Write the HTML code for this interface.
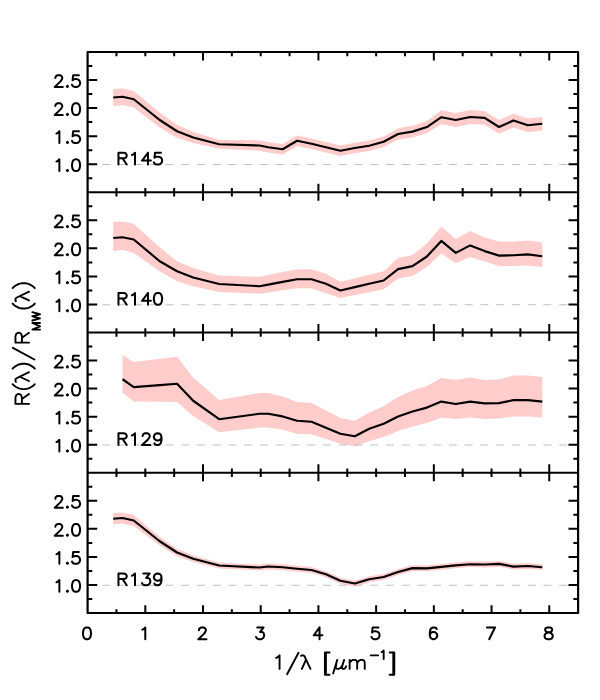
<!DOCTYPE html>
<html lang="en"><head><meta charset="utf-8"><title>R(lambda)/R_MW(lambda) vs 1/lambda</title>
<style>html,body{margin:0;padding:0;background:#fff;font-family:"Liberation Sans",sans-serif}svg{display:block}.t{fill:#000;fill-opacity:0;font-family:"Liberation Sans",sans-serif;font-size:16px}</style>
</head><body>
<svg width="600" height="700" viewBox="0 0 600 700">
<rect width="600" height="700" fill="#fff"/>
<polygon points="113.22,89.10 122.57,88.44 133.76,91.04 159.73,112.62 177.04,124.87 193.20,132.00 219.17,139.64 259.56,140.31 268.22,142.10 282.65,144.07 297.07,135.56 311.50,138.55 325.93,142.06 340.35,145.54 354.78,142.77 369.20,140.48 383.63,136.43 398.06,128.29 412.48,125.75 426.91,121.09 441.34,110.21 455.76,113.02 470.19,110.06 484.62,110.90 499.04,120.09 513.47,113.66 527.90,118.47 542.32,117.00 542.32,130.60 527.90,132.13 513.47,127.38 499.04,133.87 484.62,124.72 470.19,123.94 455.76,126.96 441.34,124.21 426.91,133.09 412.48,137.45 398.06,139.69 383.63,147.03 369.20,151.02 354.78,153.23 340.35,155.94 325.93,152.46 311.50,148.95 297.07,145.96 282.65,154.47 268.22,152.50 259.56,150.71 219.17,148.84 193.20,143.00 177.04,137.67 159.73,127.42 133.76,107.44 122.57,105.06 113.22,105.90" fill="#ffcccc"/>
<line x1="87.60" y1="164.50" x2="578.10" y2="164.50" stroke="#808080" stroke-width="0.5" stroke-dasharray="8 7.75" stroke-dashoffset="0.92"/>
<polyline points="113.22,97.50 122.57,96.75 133.76,99.24 159.73,120.02 177.04,131.27 193.20,137.50 219.17,144.24 259.56,145.51 268.22,147.30 282.65,149.27 297.07,140.76 311.50,143.75 325.93,147.26 340.35,150.74 354.78,148.00 369.20,145.75 383.63,141.73 398.06,133.99 412.48,131.60 426.91,127.09 441.34,117.21 455.76,119.99 470.19,117.00 484.62,117.81 499.04,126.98 513.47,120.52 527.90,125.30 542.32,123.80" fill="none" stroke="#000" stroke-width="2.15" stroke-linejoin="round" stroke-linecap="butt"/>
<polygon points="113.22,222.00 122.57,221.50 133.76,223.74 159.73,247.53 177.04,261.27 193.20,268.00 219.17,275.49 259.56,276.74 268.22,275.01 282.65,272.12 297.07,269.25 311.50,269.25 325.93,273.76 340.35,281.74 354.78,278.24 369.20,274.74 383.63,271.22 398.06,257.99 412.48,255.00 426.91,243.59 441.34,226.53 455.76,239.06 470.19,231.01 484.62,237.60 499.04,241.50 513.47,241.50 527.90,240.60 542.32,242.40 542.32,267.00 527.90,265.50 513.47,266.10 499.04,266.10 484.62,261.61 470.19,257.10 455.76,263.37 441.34,253.53 426.91,266.99 412.48,276.00 398.06,278.39 383.63,289.23 369.20,292.16 354.78,295.07 340.35,297.99 325.93,293.13 311.50,288.25 297.07,288.25 282.65,290.36 268.22,292.47 259.56,293.74 219.17,291.99 193.20,286.25 177.04,281.26 159.73,271.27 133.76,252.99 122.57,249.80 113.22,251.00" fill="#ffcccc"/>
<line x1="87.60" y1="304.75" x2="578.10" y2="304.75" stroke="#808080" stroke-width="0.5" stroke-dasharray="8 7.75" stroke-dashoffset="0.92"/>
<polyline points="113.22,238.00 122.57,237.25 133.76,239.49 159.73,261.27 177.04,271.27 193.20,277.50 219.17,283.99 259.56,286.24 268.22,284.62 282.65,281.93 297.07,279.25 311.50,279.25 325.93,283.76 340.35,290.49 354.78,287.16 369.20,283.82 383.63,280.48 398.06,269.09 412.48,266.10 426.91,256.49 441.34,240.93 455.76,252.87 470.19,245.41 484.62,251.11 499.04,255.60 513.47,255.30 527.90,254.40 542.32,256.20" fill="none" stroke="#000" stroke-width="2.15" stroke-linejoin="round" stroke-linecap="butt"/>
<polygon points="122.57,355.00 133.76,361.98 159.73,358.85 177.04,356.81 193.20,377.50 219.17,399.97 259.56,393.00 268.22,393.00 282.65,396.62 297.07,402.00 311.50,403.00 325.93,410.51 340.35,418.01 354.78,420.73 369.20,412.50 383.63,406.23 398.06,397.07 412.48,390.51 426.91,385.99 441.34,377.91 455.76,379.99 470.19,377.60 484.62,380.00 499.04,379.39 513.47,375.50 527.90,375.50 542.32,377.00 542.32,417.50 527.90,416.60 513.47,416.60 499.04,418.39 484.62,419.00 470.19,417.50 455.76,418.99 441.34,417.50 426.91,422.90 412.48,426.50 398.06,430.98 383.63,436.99 369.20,441.25 354.78,446.24 340.35,443.76 325.93,439.01 311.50,434.25 297.07,433.75 282.65,429.81 268.22,427.50 259.56,427.50 219.17,432.28 193.20,416.00 177.04,402.04 159.73,401.80 133.76,401.47 122.57,392.70" fill="#ffcccc"/>
<line x1="87.60" y1="445.00" x2="578.10" y2="445.00" stroke="#808080" stroke-width="0.5" stroke-dasharray="8 7.75" stroke-dashoffset="0.92"/>
<polyline points="122.57,379.25 133.76,387.17 159.73,385.13 177.04,383.80 193.20,400.75 219.17,419.23 259.56,413.75 268.22,413.75 282.65,416.41 297.07,420.75 311.50,421.75 325.93,427.76 340.35,433.76 354.78,436.24 369.20,428.75 383.63,423.73 398.06,416.58 412.48,411.51 426.91,407.60 441.34,401.61 455.76,403.99 470.19,401.60 484.62,403.40 499.04,403.09 513.47,400.10 527.90,400.10 542.32,401.60" fill="none" stroke="#000" stroke-width="2.15" stroke-linejoin="round" stroke-linecap="butt"/>
<polygon points="113.22,513.05 122.57,512.39 133.76,514.99 159.73,536.97 177.04,548.72 193.20,555.45 219.17,562.49 259.56,564.59 268.22,563.60 282.65,564.35 297.07,565.86 311.50,567.10 325.93,571.36 340.35,577.86 354.78,580.59 369.20,576.35 383.63,574.09 398.06,569.08 412.48,565.20 426.91,565.50 441.34,564.00 455.76,562.49 470.19,561.30 484.62,561.60 499.04,561.01 513.47,563.70 527.90,563.10 542.32,564.30 542.32,570.10 527.90,568.90 513.47,569.50 499.04,566.81 484.62,567.40 470.19,567.10 455.76,568.29 441.34,569.80 426.91,571.30 412.48,571.00 398.06,574.88 383.63,579.89 369.20,582.15 354.78,586.39 340.35,583.66 325.93,577.16 311.50,572.90 297.07,571.66 282.65,570.15 268.22,569.40 259.56,570.39 219.17,568.49 193.20,562.05 177.04,556.32 159.73,545.57 133.76,525.99 122.57,523.61 113.22,524.45" fill="#ffcccc"/>
<line x1="87.60" y1="585.25" x2="578.10" y2="585.25" stroke="#808080" stroke-width="0.5" stroke-dasharray="8 7.75" stroke-dashoffset="0.92"/>
<polyline points="113.22,518.75 122.57,518.00 133.76,520.49 159.73,541.27 177.04,552.52 193.20,558.75 219.17,565.49 259.56,567.49 268.22,566.50 282.65,567.25 297.07,568.76 311.50,570.00 325.93,574.26 340.35,580.76 354.78,583.49 369.20,579.25 383.63,576.99 398.06,571.98 412.48,568.10 426.91,568.40 441.34,566.90 455.76,565.39 470.19,564.20 484.62,564.50 499.04,563.91 513.47,566.60 527.90,566.00 542.32,567.20" fill="none" stroke="#000" stroke-width="2.15" stroke-linejoin="round" stroke-linecap="butt"/>
<path d="M87.60 52.00 H578.10 V613.00 H87.60 Z M87.60 192.25 H578.10 M87.60 332.50 H578.10 M87.60 472.75 H578.10" fill="none" stroke="#000" stroke-width="2.20" stroke-linejoin="round"/>
<path d="M116.45 52.00 V56.20 M145.31 52.00 V56.20 M174.16 52.00 V56.20 M203.01 52.00 V60.40 M231.86 52.00 V56.20 M260.72 52.00 V56.20 M289.57 52.00 V56.20 M318.42 52.00 V60.40 M347.28 52.00 V56.20 M376.13 52.00 V56.20 M404.98 52.00 V56.20 M433.84 52.00 V60.40 M462.69 52.00 V56.20 M491.54 52.00 V56.20 M520.39 52.00 V56.20 M549.25 52.00 V60.40 M116.45 188.05 V196.45 M145.31 188.05 V196.45 M174.16 188.05 V196.45 M203.01 183.85 V200.65 M231.86 188.05 V196.45 M260.72 188.05 V196.45 M289.57 188.05 V196.45 M318.42 183.85 V200.65 M347.28 188.05 V196.45 M376.13 188.05 V196.45 M404.98 188.05 V196.45 M433.84 183.85 V200.65 M462.69 188.05 V196.45 M491.54 188.05 V196.45 M520.39 188.05 V196.45 M549.25 183.85 V200.65 M116.45 328.30 V336.70 M145.31 328.30 V336.70 M174.16 328.30 V336.70 M203.01 324.10 V340.90 M231.86 328.30 V336.70 M260.72 328.30 V336.70 M289.57 328.30 V336.70 M318.42 324.10 V340.90 M347.28 328.30 V336.70 M376.13 328.30 V336.70 M404.98 328.30 V336.70 M433.84 324.10 V340.90 M462.69 328.30 V336.70 M491.54 328.30 V336.70 M520.39 328.30 V336.70 M549.25 324.10 V340.90 M116.45 468.55 V476.95 M145.31 468.55 V476.95 M174.16 468.55 V476.95 M203.01 464.35 V481.15 M231.86 468.55 V476.95 M260.72 468.55 V476.95 M289.57 468.55 V476.95 M318.42 464.35 V481.15 M347.28 468.55 V476.95 M376.13 468.55 V476.95 M404.98 468.55 V476.95 M433.84 464.35 V481.15 M462.69 468.55 V476.95 M491.54 468.55 V476.95 M520.39 468.55 V476.95 M549.25 464.35 V481.15 M116.45 613.00 V609.20 M145.31 613.00 V605.20 M174.16 613.00 V609.20 M203.01 613.00 V605.20 M231.86 613.00 V609.20 M260.72 613.00 V605.20 M289.57 613.00 V609.20 M318.42 613.00 V605.20 M347.28 613.00 V609.20 M376.13 613.00 V605.20 M404.98 613.00 V609.20 M433.84 613.00 V605.20 M462.69 613.00 V609.20 M491.54 613.00 V605.20 M520.39 613.00 V609.20 M549.25 613.00 V605.20 M87.60 178.23 H92.30 M578.10 178.23 H573.40 M87.60 164.20 H97.20 M578.10 164.20 H568.50 M87.60 150.18 H92.30 M578.10 150.18 H573.40 M87.60 136.15 H97.20 M578.10 136.15 H568.50 M87.60 122.12 H92.30 M578.10 122.12 H573.40 M87.60 108.10 H97.20 M578.10 108.10 H568.50 M87.60 94.08 H92.30 M578.10 94.08 H573.40 M87.60 80.05 H97.20 M578.10 80.05 H568.50 M87.60 66.03 H92.30 M578.10 66.03 H573.40 M87.60 318.48 H92.30 M578.10 318.48 H573.40 M87.60 304.45 H97.20 M578.10 304.45 H568.50 M87.60 290.43 H92.30 M578.10 290.43 H573.40 M87.60 276.40 H97.20 M578.10 276.40 H568.50 M87.60 262.38 H92.30 M578.10 262.38 H573.40 M87.60 248.35 H97.20 M578.10 248.35 H568.50 M87.60 234.32 H92.30 M578.10 234.32 H573.40 M87.60 220.30 H97.20 M578.10 220.30 H568.50 M87.60 206.28 H92.30 M578.10 206.28 H573.40 M87.60 458.73 H92.30 M578.10 458.73 H573.40 M87.60 444.70 H97.20 M578.10 444.70 H568.50 M87.60 430.68 H92.30 M578.10 430.68 H573.40 M87.60 416.65 H97.20 M578.10 416.65 H568.50 M87.60 402.62 H92.30 M578.10 402.62 H573.40 M87.60 388.60 H97.20 M578.10 388.60 H568.50 M87.60 374.57 H92.30 M578.10 374.57 H573.40 M87.60 360.55 H97.20 M578.10 360.55 H568.50 M87.60 346.52 H92.30 M578.10 346.52 H573.40 M87.60 598.98 H92.30 M578.10 598.98 H573.40 M87.60 584.95 H97.20 M578.10 584.95 H568.50 M87.60 570.92 H92.30 M578.10 570.92 H573.40 M87.60 556.90 H97.20 M578.10 556.90 H568.50 M87.60 542.88 H92.30 M578.10 542.88 H573.40 M87.60 528.85 H97.20 M578.10 528.85 H568.50 M87.60 514.83 H92.30 M578.10 514.83 H573.40 M87.60 500.80 H97.20 M578.10 500.80 H568.50 M87.60 486.77 H92.30 M578.10 486.77 H573.40" fill="none" stroke="#000" stroke-width="2.00"/>
<path d="M56.50 161.58 L57.65 161.02 L59.38 159.34 L59.38 171.10 M67.42 169.98 L66.85 170.54 L67.42 171.10 L68.00 170.54 L67.42 169.98 M75.47 159.34 L73.75 159.90 L72.60 161.58 L72.02 164.38 L72.02 166.06 L72.60 168.86 L73.75 170.54 L75.47 171.10 L76.62 171.10 L78.35 170.54 L79.50 168.86 L80.07 166.06 L80.07 164.38 L79.50 161.58 L78.35 159.90 L76.62 159.34 L75.47 159.34 M56.50 133.53 L57.65 132.97 L59.38 131.29 L59.38 143.05 M67.42 141.93 L66.85 142.49 L67.42 143.05 L68.00 142.49 L67.42 141.93 M78.92 131.29 L73.17 131.29 L72.60 136.33 L73.17 135.77 L74.90 135.21 L76.62 135.21 L78.35 135.77 L79.50 136.89 L80.07 138.57 L80.07 139.69 L79.50 141.37 L78.35 142.49 L76.62 143.05 L74.90 143.05 L73.17 142.49 L72.60 141.93 L72.02 140.81 M55.35 106.04 L55.35 105.48 L55.92 104.36 L56.50 103.80 L57.65 103.24 L59.95 103.24 L61.10 103.80 L61.67 104.36 L62.25 105.48 L62.25 106.60 L61.67 107.72 L60.52 109.40 L54.77 115.00 L62.82 115.00 M67.42 113.88 L66.85 114.44 L67.42 115.00 L68.00 114.44 L67.42 113.88 M75.47 103.24 L73.75 103.80 L72.60 105.48 L72.02 108.28 L72.02 109.96 L72.60 112.76 L73.75 114.44 L75.47 115.00 L76.62 115.00 L78.35 114.44 L79.50 112.76 L80.07 109.96 L80.07 108.28 L79.50 105.48 L78.35 103.80 L76.62 103.24 L75.47 103.24 M55.35 77.99 L55.35 77.43 L55.92 76.31 L56.50 75.75 L57.65 75.19 L59.95 75.19 L61.10 75.75 L61.67 76.31 L62.25 77.43 L62.25 78.55 L61.67 79.67 L60.52 81.35 L54.77 86.95 L62.82 86.95 M67.42 85.83 L66.85 86.39 L67.42 86.95 L68.00 86.39 L67.42 85.83 M78.92 75.19 L73.17 75.19 L72.60 80.23 L73.17 79.67 L74.90 79.11 L76.62 79.11 L78.35 79.67 L79.50 80.79 L80.07 82.47 L80.07 83.59 L79.50 85.27 L78.35 86.39 L76.62 86.95 L74.90 86.95 L73.17 86.39 L72.60 85.83 L72.02 84.71 M56.50 301.83 L57.65 301.27 L59.38 299.59 L59.38 311.35 M67.42 310.23 L66.85 310.79 L67.42 311.35 L68.00 310.79 L67.42 310.23 M75.47 299.59 L73.75 300.15 L72.60 301.83 L72.02 304.63 L72.02 306.31 L72.60 309.11 L73.75 310.79 L75.47 311.35 L76.62 311.35 L78.35 310.79 L79.50 309.11 L80.07 306.31 L80.07 304.63 L79.50 301.83 L78.35 300.15 L76.62 299.59 L75.47 299.59 M56.50 273.78 L57.65 273.22 L59.38 271.54 L59.38 283.30 M67.42 282.18 L66.85 282.74 L67.42 283.30 L68.00 282.74 L67.42 282.18 M78.92 271.54 L73.17 271.54 L72.60 276.58 L73.17 276.02 L74.90 275.46 L76.62 275.46 L78.35 276.02 L79.50 277.14 L80.07 278.82 L80.07 279.94 L79.50 281.62 L78.35 282.74 L76.62 283.30 L74.90 283.30 L73.17 282.74 L72.60 282.18 L72.02 281.06 M55.35 246.29 L55.35 245.73 L55.92 244.61 L56.50 244.05 L57.65 243.49 L59.95 243.49 L61.10 244.05 L61.67 244.61 L62.25 245.73 L62.25 246.85 L61.67 247.97 L60.52 249.65 L54.77 255.25 L62.82 255.25 M67.42 254.13 L66.85 254.69 L67.42 255.25 L68.00 254.69 L67.42 254.13 M75.47 243.49 L73.75 244.05 L72.60 245.73 L72.02 248.53 L72.02 250.21 L72.60 253.01 L73.75 254.69 L75.47 255.25 L76.62 255.25 L78.35 254.69 L79.50 253.01 L80.07 250.21 L80.07 248.53 L79.50 245.73 L78.35 244.05 L76.62 243.49 L75.47 243.49 M55.35 218.24 L55.35 217.68 L55.92 216.56 L56.50 216.00 L57.65 215.44 L59.95 215.44 L61.10 216.00 L61.67 216.56 L62.25 217.68 L62.25 218.80 L61.67 219.92 L60.52 221.60 L54.77 227.20 L62.82 227.20 M67.42 226.08 L66.85 226.64 L67.42 227.20 L68.00 226.64 L67.42 226.08 M78.92 215.44 L73.17 215.44 L72.60 220.48 L73.17 219.92 L74.90 219.36 L76.62 219.36 L78.35 219.92 L79.50 221.04 L80.07 222.72 L80.07 223.84 L79.50 225.52 L78.35 226.64 L76.62 227.20 L74.90 227.20 L73.17 226.64 L72.60 226.08 L72.02 224.96 M56.50 442.08 L57.65 441.52 L59.38 439.84 L59.38 451.60 M67.42 450.48 L66.85 451.04 L67.42 451.60 L68.00 451.04 L67.42 450.48 M75.47 439.84 L73.75 440.40 L72.60 442.08 L72.02 444.88 L72.02 446.56 L72.60 449.36 L73.75 451.04 L75.47 451.60 L76.62 451.60 L78.35 451.04 L79.50 449.36 L80.07 446.56 L80.07 444.88 L79.50 442.08 L78.35 440.40 L76.62 439.84 L75.47 439.84 M56.50 414.03 L57.65 413.47 L59.38 411.79 L59.38 423.55 M67.42 422.43 L66.85 422.99 L67.42 423.55 L68.00 422.99 L67.42 422.43 M78.92 411.79 L73.17 411.79 L72.60 416.83 L73.17 416.27 L74.90 415.71 L76.62 415.71 L78.35 416.27 L79.50 417.39 L80.07 419.07 L80.07 420.19 L79.50 421.87 L78.35 422.99 L76.62 423.55 L74.90 423.55 L73.17 422.99 L72.60 422.43 L72.02 421.31 M55.35 386.54 L55.35 385.98 L55.92 384.86 L56.50 384.30 L57.65 383.74 L59.95 383.74 L61.10 384.30 L61.67 384.86 L62.25 385.98 L62.25 387.10 L61.67 388.22 L60.52 389.90 L54.77 395.50 L62.82 395.50 M67.42 394.38 L66.85 394.94 L67.42 395.50 L68.00 394.94 L67.42 394.38 M75.47 383.74 L73.75 384.30 L72.60 385.98 L72.02 388.78 L72.02 390.46 L72.60 393.26 L73.75 394.94 L75.47 395.50 L76.62 395.50 L78.35 394.94 L79.50 393.26 L80.07 390.46 L80.07 388.78 L79.50 385.98 L78.35 384.30 L76.62 383.74 L75.47 383.74 M55.35 358.49 L55.35 357.93 L55.92 356.81 L56.50 356.25 L57.65 355.69 L59.95 355.69 L61.10 356.25 L61.67 356.81 L62.25 357.93 L62.25 359.05 L61.67 360.17 L60.52 361.85 L54.77 367.45 L62.82 367.45 M67.42 366.33 L66.85 366.89 L67.42 367.45 L68.00 366.89 L67.42 366.33 M78.92 355.69 L73.17 355.69 L72.60 360.73 L73.17 360.17 L74.90 359.61 L76.62 359.61 L78.35 360.17 L79.50 361.29 L80.07 362.97 L80.07 364.09 L79.50 365.77 L78.35 366.89 L76.62 367.45 L74.90 367.45 L73.17 366.89 L72.60 366.33 L72.02 365.21 M56.50 582.33 L57.65 581.77 L59.38 580.09 L59.38 591.85 M67.42 590.73 L66.85 591.29 L67.42 591.85 L68.00 591.29 L67.42 590.73 M75.47 580.09 L73.75 580.65 L72.60 582.33 L72.02 585.13 L72.02 586.81 L72.60 589.61 L73.75 591.29 L75.47 591.85 L76.62 591.85 L78.35 591.29 L79.50 589.61 L80.07 586.81 L80.07 585.13 L79.50 582.33 L78.35 580.65 L76.62 580.09 L75.47 580.09 M56.50 554.28 L57.65 553.72 L59.38 552.04 L59.38 563.80 M67.42 562.68 L66.85 563.24 L67.42 563.80 L68.00 563.24 L67.42 562.68 M78.92 552.04 L73.17 552.04 L72.60 557.08 L73.17 556.52 L74.90 555.96 L76.62 555.96 L78.35 556.52 L79.50 557.64 L80.07 559.32 L80.07 560.44 L79.50 562.12 L78.35 563.24 L76.62 563.80 L74.90 563.80 L73.17 563.24 L72.60 562.68 L72.02 561.56 M55.35 526.79 L55.35 526.23 L55.92 525.11 L56.50 524.55 L57.65 523.99 L59.95 523.99 L61.10 524.55 L61.67 525.11 L62.25 526.23 L62.25 527.35 L61.67 528.47 L60.52 530.15 L54.77 535.75 L62.82 535.75 M67.42 534.63 L66.85 535.19 L67.42 535.75 L68.00 535.19 L67.42 534.63 M75.47 523.99 L73.75 524.55 L72.60 526.23 L72.02 529.03 L72.02 530.71 L72.60 533.51 L73.75 535.19 L75.47 535.75 L76.62 535.75 L78.35 535.19 L79.50 533.51 L80.07 530.71 L80.07 529.03 L79.50 526.23 L78.35 524.55 L76.62 523.99 L75.47 523.99 M55.35 498.74 L55.35 498.18 L55.92 497.06 L56.50 496.50 L57.65 495.94 L59.95 495.94 L61.10 496.50 L61.67 497.06 L62.25 498.18 L62.25 499.30 L61.67 500.42 L60.52 502.10 L54.77 507.70 L62.82 507.70 M67.42 506.58 L66.85 507.14 L67.42 507.70 L68.00 507.14 L67.42 506.58 M78.92 495.94 L73.17 495.94 L72.60 500.98 L73.17 500.42 L74.90 499.86 L76.62 499.86 L78.35 500.42 L79.50 501.54 L80.07 503.22 L80.07 504.34 L79.50 506.02 L78.35 507.14 L76.62 507.70 L74.90 507.70 L73.17 507.14 L72.60 506.58 L72.02 505.46 M86.42 627.44 L84.70 628.00 L83.55 629.68 L82.97 632.48 L82.97 634.16 L83.55 636.96 L84.70 638.64 L86.42 639.20 L87.58 639.20 L89.30 638.64 L90.45 636.96 L91.03 634.16 L91.03 632.48 L90.45 629.68 L89.30 628.00 L87.58 627.44 L86.42 627.44 M142.41 629.68 L143.56 629.12 L145.28 627.44 L145.28 639.20 M198.96 630.24 L198.96 629.68 L199.54 628.56 L200.11 628.00 L201.26 627.44 L203.56 627.44 L204.71 628.00 L205.29 628.56 L205.86 629.68 L205.86 630.80 L205.29 631.92 L204.14 633.60 L198.39 639.20 L206.44 639.20 M257.24 627.44 L263.57 627.44 L260.12 631.92 L261.84 631.92 L262.99 632.48 L263.57 633.04 L264.14 634.72 L264.14 635.84 L263.57 637.52 L262.42 638.64 L260.69 639.20 L258.97 639.20 L257.24 638.64 L256.67 638.08 L256.09 636.96 M319.55 627.44 L313.80 635.28 L322.42 635.28 M319.55 627.44 L319.55 639.20 M378.40 627.44 L372.65 627.44 L372.08 632.48 L372.65 631.92 L374.38 631.36 L376.10 631.36 L377.83 631.92 L378.98 633.04 L379.55 634.72 L379.55 635.84 L378.98 637.52 L377.83 638.64 L376.10 639.20 L374.38 639.20 L372.65 638.64 L372.08 638.08 L371.50 636.96 M436.69 629.12 L436.11 628.00 L434.39 627.44 L433.24 627.44 L431.51 628.00 L430.36 629.68 L429.79 632.48 L429.79 635.28 L430.36 637.52 L431.51 638.64 L433.24 639.20 L433.81 639.20 L435.54 638.64 L436.69 637.52 L437.26 635.84 L437.26 635.28 L436.69 633.60 L435.54 632.48 L433.81 631.92 L433.24 631.92 L431.51 632.48 L430.36 633.60 L429.79 635.28 M494.97 627.44 L489.22 639.20 M486.92 627.44 L494.97 627.44 M547.50 627.44 L545.77 628.00 L545.20 629.12 L545.20 630.24 L545.77 631.36 L546.92 631.92 L549.22 632.48 L550.95 633.04 L552.10 634.16 L552.67 635.28 L552.67 636.96 L552.10 638.08 L551.52 638.64 L549.80 639.20 L547.50 639.20 L545.77 638.64 L545.20 638.08 L544.62 636.96 L544.62 635.28 L545.20 634.16 L546.35 633.04 L548.07 632.48 L550.37 631.92 L551.52 631.36 L552.10 630.24 L552.10 629.12 L551.52 628.00 L549.80 627.44 L547.50 627.44 M118.46 152.74 L118.46 164.50 M118.46 152.74 L123.77 152.74 L125.54 153.30 L126.13 153.86 L126.72 154.98 L126.72 156.10 L126.13 157.22 L125.54 157.78 L123.77 158.34 L118.46 158.34 M122.59 158.34 L126.72 164.50 M132.03 154.98 L133.21 154.42 L134.98 152.74 L134.98 164.50 M147.96 152.74 L142.06 160.58 L150.91 160.58 M147.96 152.74 L147.96 164.50 M160.94 152.74 L155.04 152.74 L154.45 157.78 L155.04 157.22 L156.81 156.66 L158.58 156.66 L160.35 157.22 L161.53 158.34 L162.12 160.02 L162.12 161.14 L161.53 162.82 L160.35 163.94 L158.58 164.50 L156.81 164.50 L155.04 163.94 L154.45 163.38 L153.86 162.26 M118.46 292.99 L118.46 304.75 M118.46 292.99 L123.77 292.99 L125.54 293.55 L126.13 294.11 L126.72 295.23 L126.72 296.35 L126.13 297.47 L125.54 298.03 L123.77 298.59 L118.46 298.59 M122.59 298.59 L126.72 304.75 M132.03 295.23 L133.21 294.67 L134.98 292.99 L134.98 304.75 M147.96 292.99 L142.06 300.83 L150.91 300.83 M147.96 292.99 L147.96 304.75 M157.40 292.99 L155.63 293.55 L154.45 295.23 L153.86 298.03 L153.86 299.71 L154.45 302.51 L155.63 304.19 L157.40 304.75 L158.58 304.75 L160.35 304.19 L161.53 302.51 L162.12 299.71 L162.12 298.03 L161.53 295.23 L160.35 293.55 L158.58 292.99 L157.40 292.99 M118.46 433.24 L118.46 445.00 M118.46 433.24 L123.77 433.24 L125.54 433.80 L126.13 434.36 L126.72 435.48 L126.72 436.60 L126.13 437.72 L125.54 438.28 L123.77 438.84 L118.46 438.84 M122.59 438.84 L126.72 445.00 M132.03 435.48 L133.21 434.92 L134.98 433.24 L134.98 445.00 M142.65 436.04 L142.65 435.48 L143.24 434.36 L143.83 433.80 L145.01 433.24 L147.37 433.24 L148.55 433.80 L149.14 434.36 L149.73 435.48 L149.73 436.60 L149.14 437.72 L147.96 439.40 L142.06 445.00 L150.32 445.00 M161.53 437.16 L160.94 438.84 L159.76 439.96 L157.99 440.52 L157.40 440.52 L155.63 439.96 L154.45 438.84 L153.86 437.16 L153.86 436.60 L154.45 434.92 L155.63 433.80 L157.40 433.24 L157.99 433.24 L159.76 433.80 L160.94 434.92 L161.53 437.16 L161.53 439.96 L160.94 442.76 L159.76 444.44 L157.99 445.00 L156.81 445.00 L155.04 444.44 L154.45 443.32 M118.46 573.49 L118.46 585.25 M118.46 573.49 L123.77 573.49 L125.54 574.05 L126.13 574.61 L126.72 575.73 L126.72 576.85 L126.13 577.97 L125.54 578.53 L123.77 579.09 L118.46 579.09 M122.59 579.09 L126.72 585.25 M132.03 575.73 L133.21 575.17 L134.98 573.49 L134.98 585.25 M143.24 573.49 L149.73 573.49 L146.19 577.97 L147.96 577.97 L149.14 578.53 L149.73 579.09 L150.32 580.77 L150.32 581.89 L149.73 583.57 L148.55 584.69 L146.78 585.25 L145.01 585.25 L143.24 584.69 L142.65 584.13 L142.06 583.01 M161.53 577.41 L160.94 579.09 L159.76 580.21 L157.99 580.77 L157.40 580.77 L155.63 580.21 L154.45 579.09 L153.86 577.41 L153.86 576.85 L154.45 575.17 L155.63 574.05 L157.40 573.49 L157.99 573.49 L159.76 574.05 L160.94 575.17 L161.53 577.41 L161.53 580.21 L160.94 583.01 L159.76 584.69 L157.99 585.25 L156.81 585.25 L155.04 584.69 L154.45 583.57" fill="none" stroke="#000" stroke-width="2.00" stroke-linecap="round" stroke-linejoin="round"/>
<path d="M276.12 657.93 L277.50 657.29 L279.56 655.36 L279.56 668.90 M298.52 652.77 L287.11 674.25 M301.06 655.81 L301.88 655.36 L303.26 655.36 L304.29 656.00 L304.98 657.29 L310.47 668.90 M305.80 660.19 L301.88 668.90 M324.90 652.52 L324.90 674.70 M325.93 652.52 L325.93 674.70 M324.90 652.52 L329.57 652.52 M324.90 674.70 L329.57 674.70 M337.26 659.87 L333.14 673.41 M336.58 662.45 L335.89 666.32 L335.89 668.25 L337.26 668.90 L338.64 668.90 L340.01 668.25 L341.39 666.97 L342.76 664.38 M344.13 659.87 L342.76 664.38 L342.07 666.97 L342.07 668.25 L342.76 668.90 L344.13 668.90 L345.51 667.61 L346.20 666.32 M349.63 659.87 L349.63 668.90 M349.63 662.45 L351.69 660.51 L353.07 659.87 L355.13 659.87 L356.50 660.51 L357.19 662.45 L357.19 668.90 M357.19 662.45 L359.25 660.51 L360.62 659.87 L362.68 659.87 L364.06 660.51 L364.75 662.45 L364.75 668.90 M370.73 655.41 L378.11 655.41 M381.61 652.13 L382.43 651.72 L383.66 650.49 L383.66 659.10 M393.27 652.52 L393.27 674.70 M394.30 652.52 L394.30 674.70 M389.63 652.52 L394.30 652.52 M389.63 674.70 L394.30 674.70" fill="none" stroke="#000" stroke-width="1.90" stroke-linecap="round" stroke-linejoin="round"/>
<path d="M15.46 403.88 L29.00 403.88 M15.46 403.88 L15.46 397.55 L16.10 395.44 L16.74 394.73 L18.04 394.03 L19.32 394.03 L20.62 394.73 L21.26 395.44 L21.91 397.55 L21.91 403.88 M21.91 398.96 L29.00 394.03 M12.62 384.17 L14.00 385.58 L16.09 386.99 L18.86 388.40 L22.32 389.10 L25.10 389.10 L28.57 388.40 L31.33 386.99 L33.42 385.58 L34.80 384.17 M15.91 381.85 L15.46 381.00 L15.46 379.60 L16.10 378.54 L17.39 377.84 L29.00 372.20 M20.29 376.99 L29.00 381.00 M12.62 368.68 L14.00 367.28 L16.09 365.87 L18.86 364.46 L22.32 363.76 L25.10 363.76 L28.57 364.46 L31.33 365.87 L33.42 367.28 L34.80 368.68 M12.88 347.85 L34.35 359.53 M15.46 342.64 L29.00 342.64 M15.46 342.64 L15.46 336.30 L16.10 334.19 L16.74 333.48 L18.04 332.78 L19.32 332.78 L20.62 333.48 L21.26 334.19 L21.91 336.30 L21.91 342.64 M21.91 337.71 L29.00 332.78 M32.34 329.61 L40.00 329.61 M32.34 329.61 L40.00 326.29 M32.34 322.97 L40.00 326.29 M32.34 322.97 L40.00 322.97 M32.34 320.48 L40.00 318.40 M32.34 316.33 L40.00 318.40 M32.34 316.33 L40.00 314.25 M32.34 312.18 L40.00 314.25 M12.62 303.60 L14.00 305.01 L16.09 306.42 L18.86 307.83 L22.32 308.53 L25.10 308.53 L28.57 307.83 L31.33 306.42 L33.42 305.01 L34.80 303.60 M15.91 301.28 L15.46 300.44 L15.46 299.03 L16.10 297.97 L17.39 297.27 L29.00 291.64 M20.29 296.42 L29.00 300.44 M12.62 288.12 L14.00 286.71 L16.09 285.30 L18.86 283.89 L22.32 283.19 L25.10 283.19 L28.57 283.89 L31.33 285.30 L33.42 286.71 L34.80 288.12" fill="none" stroke="#000" stroke-width="1.90" stroke-linecap="round" stroke-linejoin="round"/>
<g class="t" aria-hidden="false">
<text x="118" y="163.2">R145</text>
<text x="54" y="86.0">2.5</text>
<text x="54" y="114.1">2.0</text>
<text x="54" y="142.2">1.5</text>
<text x="54" y="170.2">1.0</text>
<text x="118" y="303.4">R140</text>
<text x="54" y="226.3">2.5</text>
<text x="54" y="254.3">2.0</text>
<text x="54" y="282.4">1.5</text>
<text x="54" y="310.4">1.0</text>
<text x="118" y="443.7">R129</text>
<text x="54" y="366.6">2.5</text>
<text x="54" y="394.6">2.0</text>
<text x="54" y="422.6">1.5</text>
<text x="54" y="450.7">1.0</text>
<text x="118" y="584.0">R139</text>
<text x="54" y="506.8">2.5</text>
<text x="54" y="534.9">2.0</text>
<text x="54" y="562.9">1.5</text>
<text x="54" y="591.0">1.0</text>
<text x="87.6" y="640" text-anchor="middle">0</text>
<text x="145.3" y="640" text-anchor="middle">1</text>
<text x="203.0" y="640" text-anchor="middle">2</text>
<text x="260.7" y="640" text-anchor="middle">3</text>
<text x="318.4" y="640" text-anchor="middle">4</text>
<text x="376.1" y="640" text-anchor="middle">5</text>
<text x="433.8" y="640" text-anchor="middle">6</text>
<text x="491.5" y="640" text-anchor="middle">7</text>
<text x="549.2" y="640" text-anchor="middle">8</text>
<text x="335" y="669" text-anchor="middle">1/λ [μm⁻¹]</text>
<text transform="translate(30,343) rotate(-90)" text-anchor="middle">R(λ)/R<tspan font-size="10" dy="4">MW</tspan><tspan dy="-4">(λ)</tspan></text>
</g>
</svg></body></html>
